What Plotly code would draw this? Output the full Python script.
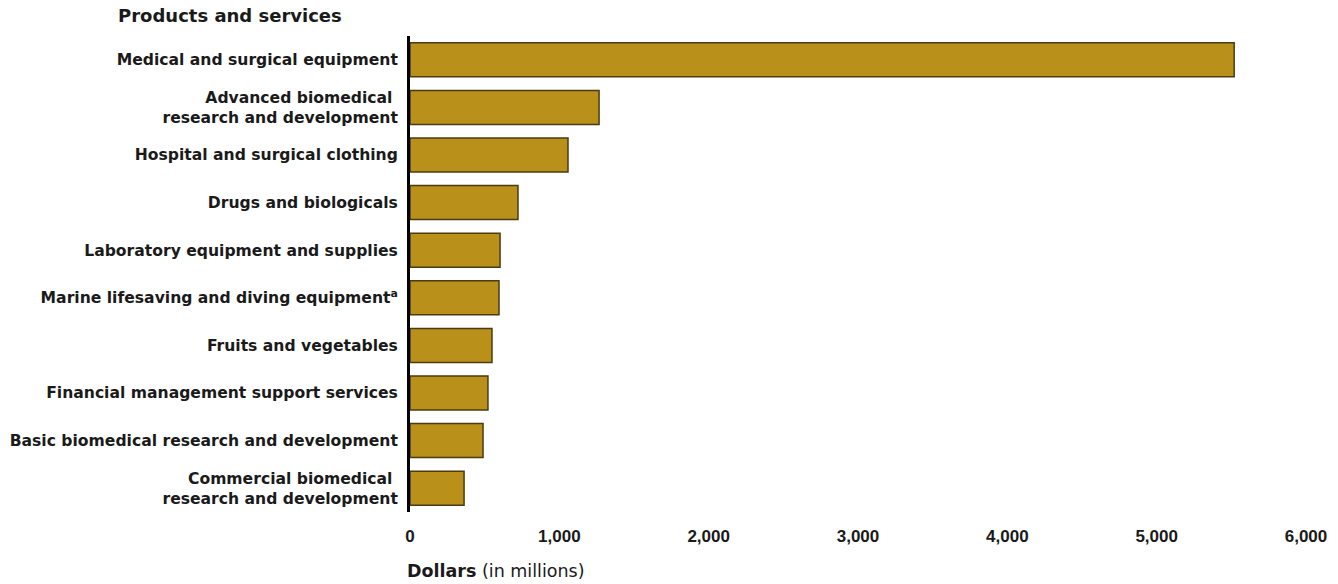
import plotly.graph_objects as go

categories = [
    "Medical and surgical equipment",
    "Advanced biomedical <br>research and development",
    "Hospital and surgical clothing",
    "Drugs and biologicals",
    "Laboratory equipment and supplies",
    "Marine lifesaving and diving equipment<sup>a</sup>",
    "Fruits and vegetables",
    "Financial management support services",
    "Basic biomedical research and development",
    "Commercial biomedical <br>research and development",
]
values = [5519, 1266, 1058, 723, 603, 596, 549, 522, 489, 362]
tick_vals = [0, 1000, 2000, 3000, 4000, 5000, 6000]
tick_text = ["0", "1,000", "2,000", "3,000", "4,000", "5,000", "6,000"]

W, H = 1338, 584
L, R, T, B = 410, 32, 36, 72

LABEL_FONT = "DejaVu Sans, Liberation Sans, Arial, sans-serif"
TICK_FONT = "Liberation Sans, Arial, sans-serif"

fig = go.Figure(go.Bar(
    x=values,
    y=categories,
    orientation="h",
    marker=dict(color="#B8901A", line=dict(color="#4A3B12", width=1.5)),
    hoverinfo="x+y",
))

fig.update_layout(
    width=W, height=H,
    margin=dict(l=L, r=R, t=T, b=B, autoexpand=False),
    paper_bgcolor="white", plot_bgcolor="white",
    bargap=0.285,
    showlegend=False,
    font=dict(family=LABEL_FONT, color="#1a1a1a"),
    title=dict(
        text="<b>Products and services</b>",
        x=118 / W, xanchor="left", xref="container",
        y=1 - 16 / H, yanchor="middle", yref="container",
        font=dict(size=18, color="#1a1a1a", family=LABEL_FONT),
    ),
)

fig.update_yaxes(
    autorange="reversed", automargin=False,
    showline=True, linecolor="black", linewidth=3,
    ticks="", showgrid=False, zeroline=False,
    tickfont=dict(size=15.6, weight="bold", color="#1a1a1a", family=LABEL_FONT),
    ticklabelstandoff=6,
)
fig.update_xaxes(
    range=[0, 6000], automargin=False,
    tickvals=tick_vals, ticktext=tick_text,
    showline=False, showgrid=False, zeroline=False, ticks="",
    tickfont=dict(size=17, weight="bold", color="#1a1a1a", family=TICK_FONT),
    ticklabelstandoff=12,
)

fig.add_annotation(
    xref="x domain", yref="paper", x=0, y=0,
    xanchor="left", yanchor="middle",
    xshift=-5, yshift=-59,
    text="<b>Dollars</b> (in millions)", showarrow=False,
    font=dict(size=17.5, color="#1a1a1a", family=LABEL_FONT),
)

fig.write_html("out.html", config={"displayModeBar": False},
               post_script="document.body.style.margin='0';")
